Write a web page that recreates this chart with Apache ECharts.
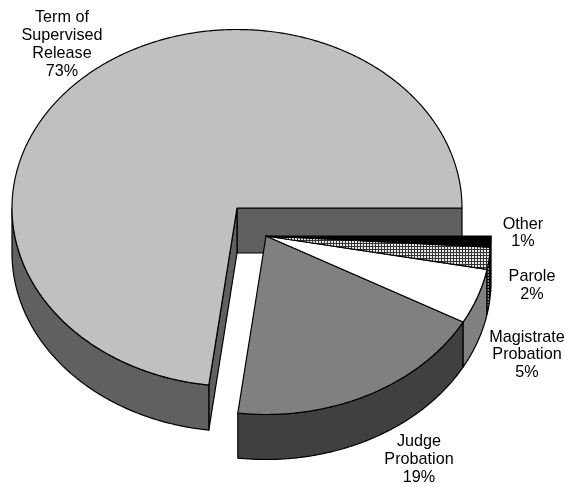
<!DOCTYPE html>
<html>
<head>
<meta charset="utf-8">
<style>html,body{margin:0;padding:0;background:#fff}#chart{width:565px;height:487px}</style>
<script src="https://cdn.jsdelivr.net/npm/echarts@6/dist/echarts.min.js"></script>
</head>
<body>
<div id="chart"></div>
<script>
// Share of each supervision type, going counter-clockwise from due east.
const sliceNames = ['Term of\nSupervised\nRelease', 'Judge\nProbation', 'Magistrate\nProbation', 'Parole', 'Other'];
const sliceValues = [73, 19, 5, 2, 1];

// Appearance of each slice, in the same order.
const topColors = ['#c0c0c0', '#808080', '#ffffff', 'grid', '#000000'];
const wallColors = ['#606060', '#404040', '#808080', 'gridDark', '#000000'];

// Pie geometry: ellipse centre and radii, extrusion depth, explode offset.
const pieCenter = [237, 208];
const pieRadius = [225, 178.5];
const pieDepth = 45;
const explodeOffsets = [[0, 0], [29, 28], [29, 28], [29, 28], [29, 28]];

// Centre of each text label.
const labelCenters = [[62, 44.5], [419, 459.5], [527, 355], [532, 285.5], [523, 233]];

// Fine grid used to fill the Parole slice.
function gridPattern(paper, ink) {
  const c = document.createElement('canvas');
  c.width = 3; c.height = 3;
  const g = c.getContext('2d');
  g.fillStyle = paper; g.fillRect(0, 0, 3, 3);
  g.fillStyle = ink; g.fillRect(0, 0, 3, 1); g.fillRect(0, 0, 1, 3);
  return { image: c, repeat: 'repeat' };
}
const fills = { grid: gridPattern('#e8e8e8', '#333333'), gridDark: gridPattern('#888888', '#000000') };
const paint = (c) => fills[c] || c;

const total = sliceValues.reduce((a, b) => a + b, 0);
const startAngles = [];
sliceValues.reduce((acc, v, i) => { startAngles[i] = acc; return acc + v / total * 360; }, 0);

function rimPoint(cx, cy, deg) {
  const a = deg * Math.PI / 180;
  return [cx + pieRadius[0] * Math.cos(a), cy - pieRadius[1] * Math.sin(a)];
}
function rimArc(cx, cy, from, to) {
  const n = Math.max(2, Math.ceil(Math.abs(to - from) * 2));
  const pts = [];
  for (let k = 0; k <= n; k++) pts.push(rimPoint(cx, cy, from + (to - from) * k / n));
  return pts;
}
const lineStyle = (fill) => ({ fill, stroke: '#000', lineWidth: 1.2, lineJoin: 'round' });
const poly = (points, fill) => ({ type: 'polygon', shape: { points }, style: lineStyle(fill) });

function renderSlice(params, api) {
  const i = api.value(0);
  const from = startAngles[i];
  const to = from + api.value(1) / total * 360;
  const cx = pieCenter[0] + explodeOffsets[i][0];
  const cy = pieCenter[1] + explodeOffsets[i][1];
  const wall = paint(wallColors[i]);
  const children = [];

  // Cut faces are only seen on the large slice, where the others have been pulled away.
  if (i === 0) {
    const a = rimPoint(cx, cy, from);
    const b = rimPoint(cx, cy, to);
    children.push(poly([[cx, cy], a, [a[0], a[1] + pieDepth], [cx, cy + pieDepth]], wall));
    children.push(poly([[cx, cy], b, [b[0], b[1] + pieDepth], [cx, cy + pieDepth]], wall));
  }

  // Outer wall: only the part of the rim on the near side of the ellipse.
  const wallFrom = Math.max(from, 180);
  const wallTo = Math.min(to, 360);
  if (wallTo > wallFrom) {
    const rim = rimArc(cx, cy, wallFrom, wallTo);
    const lower = rim.map((p) => [p[0], p[1] + pieDepth]).reverse();
    children.push(poly(rim.concat(lower), wall));
  }

  // Top face.
  children.push(poly([[cx, cy]].concat(rimArc(cx, cy, from, to)), paint(topColors[i])));

  // Name and percentage.
  children.push({
    type: 'text',
    style: {
      text: sliceNames[i] + '\n' + api.value(1) + '%',
      x: labelCenters[i][0], y: labelCenters[i][1],
      align: 'center', verticalAlign: 'middle',
      fontFamily: '"Liberation Sans", Arial, sans-serif',
      fontSize: 16.2, lineHeight: 17.8, fill: '#000'
    }
  });
  return { type: 'group', children };
}

const chart = echarts.init(document.getElementById('chart'), null, { renderer: 'canvas' });
chart.setOption({
  animation: false,
  backgroundColor: '#ffffff',
  series: [{
    type: 'custom',
    coordinateSystem: 'none',
    renderItem: renderSlice,
    silent: true,
    encode: { value: 1 },
    data: sliceValues.map((v, i) => [i, v])
  }]
});
</script>
</body>
</html>
